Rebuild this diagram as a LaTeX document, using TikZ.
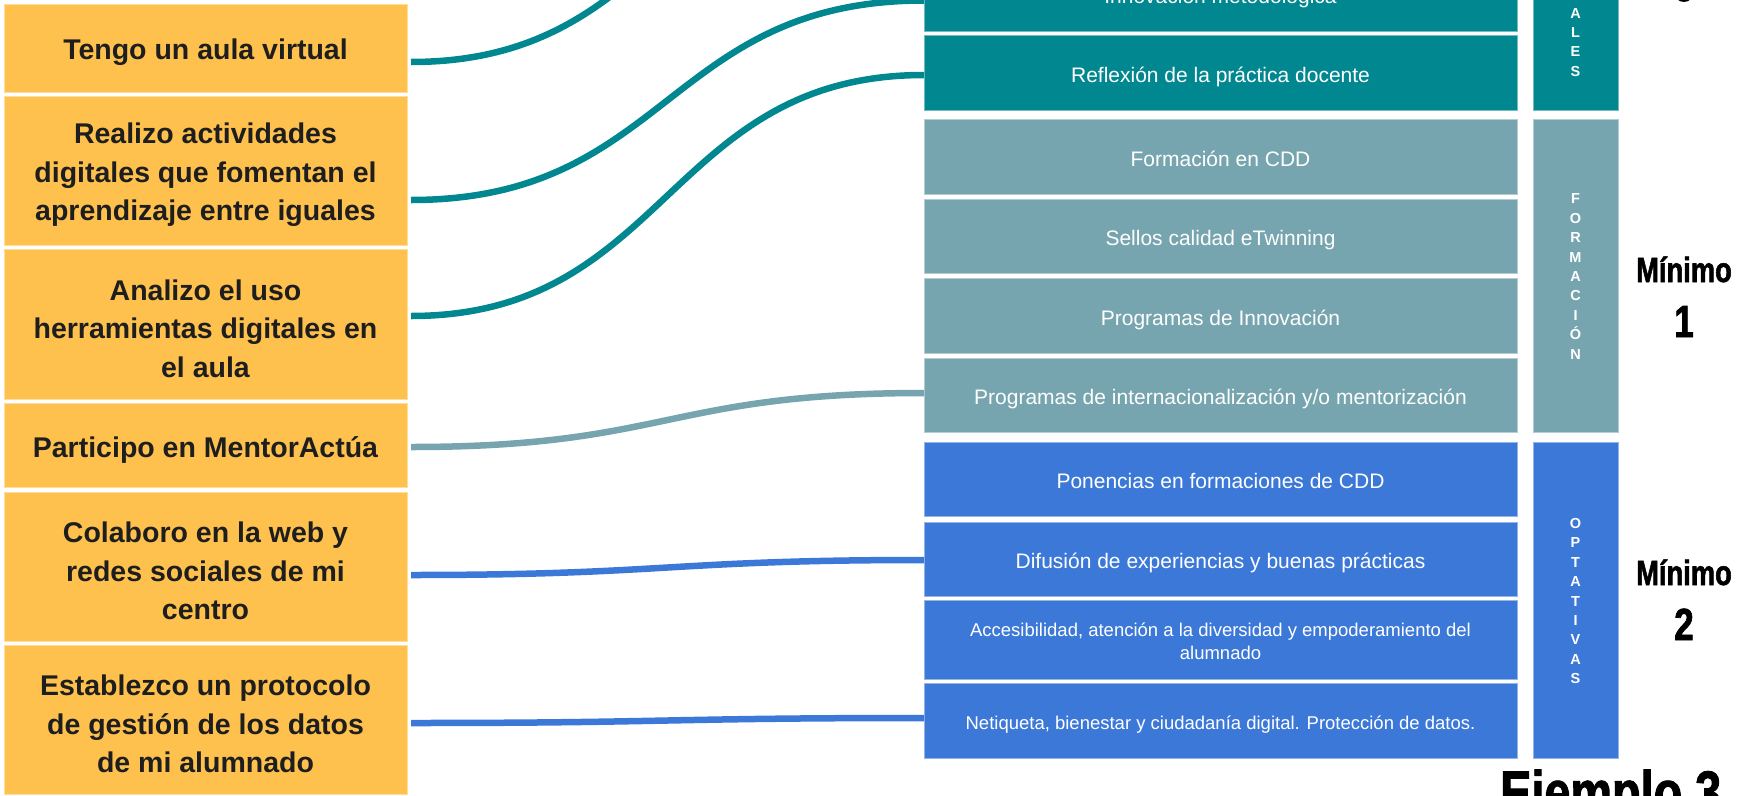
\documentclass[tikz,border=0pt]{standalone}
\usepackage{fontspec}
\setmainfont{Liberation Sans}
\newfontfamily\condfont[FakeStretch=0.78,FakeBold=1.6]{Liberation Sans}
\definecolor{cYel}{HTML}{FEC14D}
\definecolor{cTeal}{HTML}{00878F}
\definecolor{cGrey}{HTML}{76A5AF}
\definecolor{cBlue}{HTML}{3C78D8}
\definecolor{cText}{HTML}{1E1E1E}
\begin{document}
\begin{tikzpicture}[x=1pt,y=-1pt,
  box/.style={anchor=north west, inner sep=0pt, outer sep=0pt, align=center},
  lbox/.style={box, fill=cYel, draw=cYel!55!white, line width=0.8pt, minimum width=403pt, text=cText,
    font=\fontsize{28.5}{38.5}\selectfont\bfseries},
  lone/.style={lbox, text height=30pt},
  lthree/.style={lbox, text height=107pt},
  mbox/.style={box, fill=#1, draw=#1!55!white, line width=0.8pt, minimum width=593pt, text=white,
    text height=19pt, text depth=0pt, font=\fontsize{21}{25}\selectfont},
  sbox/.style={box, fill=#1, draw=#1!55!white, line width=0.8pt, minimum width=593pt, text=white,
    font=\fontsize{18.5}{23.4}\selectfont},
  cbox/.style={box, fill=#1, draw=#1!55!white, line width=0.8pt, minimum width=85pt},
  catl/.style={inner sep=0pt, align=center, text=white, font=\fontsize{14.5}{19.4}\selectfont\bfseries},
  minw/.style={inner sep=0pt, anchor=base, font=\condfont\bfseries\fontsize{35}{36}\selectfont},
  mind/.style={inner sep=0pt, anchor=base, font=\condfont\bfseries\fontsize{45}{46}\selectfont},
  conn/.style={line width=6.5pt, line cap=butt}
]
\useasboundingbox (0,0) rectangle (1739,795);
\clip (0,0) rectangle (1739,795);

% left boxes
\node[lone, minimum height=88pt]    (b1) at (4,4)   {Tengo un aula virtual};
\node[lthree, minimum height=149pt] (b2) at (4,96)  {Realizo actividades\\digitales que fomentan el\\aprendizaje entre iguales};
\node[lthree, minimum height=150pt] (b3) at (4,249) {Analizo el uso\\herramientas digitales en\\el aula};
\node[lone, minimum height=84pt]    (b4) at (4,403) {Participo en MentorActúa};
\node[lthree, minimum height=149pt] (b5) at (4,492) {Colaboro en la web y\\redes sociales de mi\\centro};
\node[lthree, minimum height=149pt] (b6) at (4,645) {Establezco un protocolo\\de gestión de los datos\\de mi alumnado};

% middle boxes
\node[mbox=cTeal, minimum height=75pt] (innov)  at (924,-44) {Innovación metodológica};
\node[mbox=cTeal, minimum height=75pt] (refl)   at (924,35)  {Reflexión de la práctica docente};
\node[mbox=cGrey, minimum height=75pt] (fcdd)   at (924,119) {Formación en CDD};
\node[mbox=cGrey, minimum height=74pt] (sellos) at (924,199) {Sellos calidad eTwinning};
\node[mbox=cGrey, minimum height=75pt] (pinno)  at (924,278) {Programas de Innovación};
\node[mbox=cGrey, minimum height=74pt] (pint)   at (924,358) {Programas de internacionalización y/o mentorización};
\node[mbox=cBlue, minimum height=74pt] (pon)    at (924,442) {Ponencias en formaciones de CDD};
\node[mbox=cBlue, minimum height=74pt] (dif)    at (924,522) {Difusión de experiencias y buenas prácticas};
\node[sbox=cBlue, minimum height=79pt, text height=41pt] (acc) at (924,600) {Accesibilidad, atención a la diversidad y empoderamiento del\\alumnado};
\node[sbox=cBlue, minimum height=75pt, text height=18pt, text depth=0pt] (net) at (924,683) {Netiqueta, bienestar y ciudadanía digital. Protección de datos.};
\coordinate (trans1) at (924,-164.5);

% category columns
\node[cbox=cTeal, minimum height=312pt] (ctrans) at (1533,-202) {};
\node[cbox=cGrey, minimum height=313pt] (cform)  at (1533,119) {};
\node[cbox=cBlue, minimum height=316pt] (copt)   at (1533,442) {};
\node[catl] (ltrans) at (1575.5,-45) {T\\R\\A\\N\\S\\V\\E\\R\\S\\A\\L\\E\\S};
\node[catl] (lform)  at (1575.5,276.5) {F\\O\\R\\M\\A\\C\\I\\Ó\\N};
\node[catl] (lopt)   at (1575.5,601) {O\\P\\T\\A\\T\\I\\V\\A\\S};

% minimum labels
\node[mind] (m0b) at (1684,1) {3};
\node[minw] (m1a) at (1684,282) {Mínimo};
\node[mind] (m1b) at (1684,337) {1};
\node[minw] (m2a) at (1684,585) {Mínimo};
\node[mind] (m2b) at (1684,640) {2};
\node[inner sep=0pt, anchor=base west, font=\condfont\bfseries\fontsize{60}{60}\selectfont] (ej) at (1500,813) {Ejemplo 3};

% connectors
\draw[conn, draw=cTeal] ([xshift=4pt,yshift=-14pt]b1.east) .. controls +(256,0) and +(-256,0) .. (trans1);
\draw[conn, draw=cTeal] ([xshift=4pt,yshift=-29.5pt]b2.east) .. controls +(256,0) and +(-256,0) .. ([yshift=-7pt]innov.west);
\draw[conn, draw=cTeal] ([xshift=4pt,yshift=8pt]b3.east) .. controls +(256,0) and +(-256,0) .. ([yshift=-2.5pt]refl.west);
\draw[conn, draw=cGrey] ([xshift=4pt,yshift=-2pt]b4.east) .. controls +(256,0) and +(-256,0) .. ([yshift=2pt]pint.west);
\draw[conn, draw=cBlue] ([xshift=4pt,yshift=-8.5pt]b5.east) .. controls +(256,0) and +(-256,0) .. ([yshift=-1pt]dif.west);
\draw[conn, draw=cBlue] ([xshift=4pt,yshift=-3.5pt]b6.east) .. controls +(256,0) and +(-256,0) .. ([yshift=2.5pt]net.west);
\end{tikzpicture}
\end{document}
